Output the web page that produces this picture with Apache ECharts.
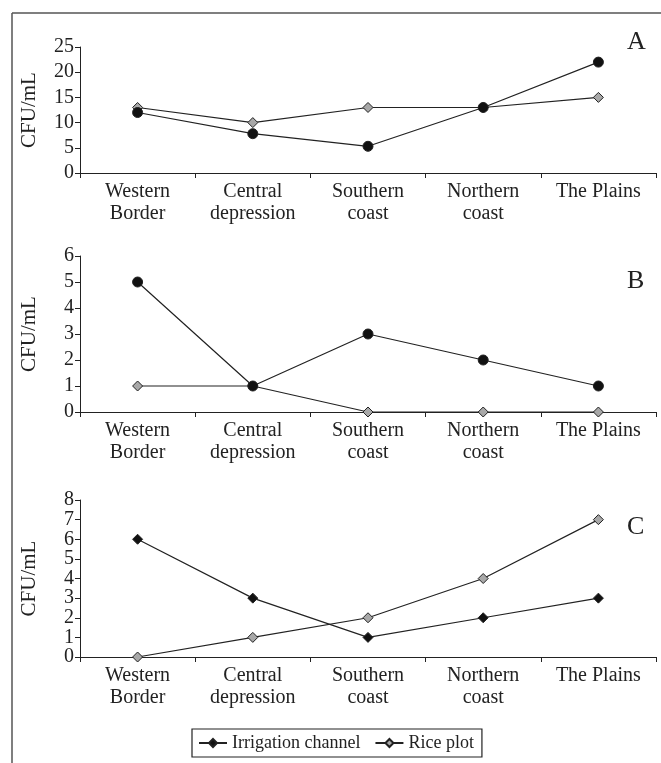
<!DOCTYPE html>
<html>
<head>
<meta charset="utf-8">
<script src="https://cdn.jsdelivr.net/npm/echarts@6/dist/echarts.min.js"></script>
<style>
  html, body { margin: 0; padding: 0; background: #fff; }
  #root { width: 661px; height: 763px; }
</style>
</head>
<body>
<div id="root"></div>
<script>
// regions on the x axis
var regions = ['Western\nBorder', 'Central\ndepression', 'Southern\ncoast', 'Northern\ncoast', 'The Plains'];

// panel A
var irrigationA = [12, 7.8, 5.3, 13, 22];
var riceA = [13, 10, 13, 13, 15];
// panel B
var irrigationB = [5, 1, 3, 2, 1];
var riceB = [1, 1, 0, 0, 0];
// panel C
var irrigationC = [6, 3, 1, 2, 3];
var riceC = [0, 1, 2, 4, 7];

var yMax = [25, 6, 8];
var yStep = [5, 1, 1];
var panelNames = ['A', 'B', 'C'];

var font = '"Liberation Serif", "Times New Roman", serif';
var myChart = echarts.init(document.getElementById('root'), null, { renderer: 'canvas' });

var grids = [
  { left: 80, top: 47, width: 576, height: 126 },
  { left: 80, top: 256, width: 576, height: 156 },
  { left: 80, top: 500, width: 576, height: 157 }
];

var labelStyle = { color: '#222', fontFamily: font, fontSize: 20, margin: 6 };

var xAxes = [], yAxes = [];
for (var i = 0; i < 3; i++) {
  xAxes.push({
    type: 'category', gridIndex: i, data: regions, boundaryGap: true,
    axisLine: { lineStyle: { color: '#222', width: 1 } },
    axisTick: { show: true, length: 5, lineStyle: { color: '#222' } },
    axisLabel: { color: '#222', fontFamily: font, fontSize: 20, lineHeight: 22, margin: 8, interval: 0 },
    splitLine: { show: false }
  });
  var lab = Object.assign({}, labelStyle);
  if (i === 2) {
    // tightly packed: even labels here, odd ones on a helper axis
    lab.formatter = function (v) { return v % 2 === 0 ? String(v) : ''; };
  }
  yAxes.push({
    type: 'value', gridIndex: i, min: 0, max: yMax[i], interval: yStep[i],
    name: 'CFU/mL', nameLocation: 'middle', nameGap: 40, nameRotate: 90,
    nameTextStyle: { color: '#222', fontFamily: font, fontSize: 21 },
    axisLine: { show: true, lineStyle: { color: '#222', width: 1 } },
    axisTick: { show: true, length: 5, lineStyle: { color: '#222' } },
    axisLabel: lab,
    splitLine: { show: false }
  });
}
yAxes.push({
  type: 'value', gridIndex: 2, min: 0, max: yMax[2], interval: yStep[2], position: 'left',
  axisLine: { show: false }, axisTick: { show: false }, splitLine: { show: false },
  axisLabel: Object.assign({}, labelStyle, {
    formatter: function (v) { return v % 2 === 1 ? String(v) : ''; }
  })
});

function makeLine(name, idx, values, symbol, fill) {
  return {
    name: name, type: 'line', xAxisIndex: idx, yAxisIndex: idx, data: values,
    symbol: symbol, symbolSize: 10,
    lineStyle: { color: '#222', width: 1.2 },
    itemStyle: { color: fill, borderColor: '#222', borderWidth: 1 },
    emphasis: { disabled: true },
    animation: false
  };
}

var series = [
  makeLine('A rice', 0, riceA, 'diamond', '#a8a8a8'),
  makeLine('A irrigation', 0, irrigationA, 'circle', '#111'),
  makeLine('B rice', 1, riceB, 'diamond', '#a8a8a8'),
  makeLine('B irrigation', 1, irrigationB, 'circle', '#111'),
  makeLine('Rice plot', 2, riceC, 'diamond', '#a8a8a8'),
  makeLine('Irrigation channel', 2, irrigationC, 'diamond', '#111')
];

var titles = panelNames.map(function (p, i) {
  return {
    text: p, left: 622, top: [24, 263, 509][i],
    textStyle: { color: '#222', fontFamily: font, fontSize: 26, fontWeight: 'normal' }
  };
});

var option = {
  backgroundColor: '#fff',
  animation: false,
  title: titles,
  grid: grids,
  xAxis: xAxes,
  yAxis: yAxes,
  legend: {
    data: ['Irrigation channel', 'Rice plot'],
    left: 192, top: 729,
    padding: [5, 8, 5, 6],
    itemWidth: 28, itemHeight: 10, itemGap: 14,
    borderColor: '#222', borderWidth: 1.2,
    textStyle: { color: '#222', fontFamily: font, fontSize: 18 },
    selectedMode: false
  },
  graphic: [
    { type: 'line', shape: { x1: 12, y1: 13, x2: 661, y2: 13 }, style: { stroke: '#555', lineWidth: 1.5 } },
    { type: 'line', shape: { x1: 12, y1: 13, x2: 12, y2: 763 }, style: { stroke: '#555', lineWidth: 1.5 } }
  ],
  series: series
};

option && myChart.setOption(option);
</script>
</body>
</html>
